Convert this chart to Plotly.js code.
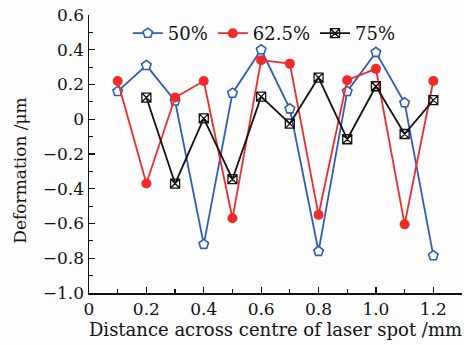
<!DOCTYPE html>
<html><head><meta charset="utf-8">
<script src="https://cdn.plot.ly/plotly-3.0.1.min.js"></script>
<style>html,body{margin:0;padding:0;background:#fff}#c{width:464px;height:345px}</style>
</head><body><div id="c"></div>
<script>
const xAll = [0.1,0.2,0.3,0.4,0.5,0.6,0.7,0.8,0.9,1.0,1.1,1.2];
const x75 = [0.2,0.3,0.4,0.5,0.6,0.7,0.8,0.9,1.0,1.1,1.2];
const y50 = [0.16,0.31,0.105,-0.72,0.15,0.40,0.06,-0.76,0.16,0.385,0.095,-0.785];
const y625 = [0.22,-0.37,0.125,0.22,-0.57,0.34,0.32,-0.55,0.225,0.29,-0.605,0.22];
const y75 = [0.125,-0.37,0.005,-0.345,0.13,-0.025,0.24,-0.115,0.19,-0.085,0.11];
const names = ['50%','62.5%','75%'];
const xTickVals = [0,0.2,0.4,0.6,0.8,1.0,1.2];
const xTickText = ['0','0.2','0.4','0.6','0.8','1.0','1.2'];
const yTickVals = [0.6,0.4,0.2,0,-0.2,-0.4,-0.6,-0.8,-1.0];
const yTickText = ['0.6','0.4','0.2','0','\u22120.2','\u22120.4','\u22120.6','\u22120.8','\u22121.0'];
const xTitle = 'Distance across centre of laser spot /mm';
const yTitle = 'Deformation /\u03bcm';

const font = 'DejaVu Serif, Liberation Serif, serif';
const traces = [
  {x:xAll, y:y50, name:names[0], mode:'lines+markers',
   line:{color:'#2f5db5', width:1.8},
   marker:{symbol:'pentagon', size:10, color:'#ffffff', line:{color:'#2f5db5', width:1.6}}},
  {x:xAll, y:y625, name:names[1], mode:'lines+markers',
   line:{color:'#ee2a2a', width:1.8},
   marker:{symbol:'circle', size:10, color:'#ee2a2a'}},
  {x:x75, y:y75, name:names[2], mode:'lines+markers',
   line:{color:'#111111', width:1.8},
   marker:{symbol:'square-x-open', size:9, color:'#111111', line:{width:1.3}}}
];
const layout = {
  width:464, height:345,
  margin:{l:89, r:2, t:15, b:52},
  paper_bgcolor:'#fdfdfd', plot_bgcolor:'#fdfdfd',
  font:{family:font, color:'#111', size:16},
  showlegend:true,
  legend:{orientation:'h', x:0.47, xanchor:'center', y:1.0, yanchor:'top',
          font:{family:font, size:18, color:'#111'}, bgcolor:'rgba(0,0,0,0)',
          itemwidth:30, tracegroupgap:0},
  xaxis:{range:[0,1.3], showgrid:false, zeroline:false, showline:true, linecolor:'#111', linewidth:1.5,
         ticks:'inside', ticklen:6, tickwidth:1.3, tickcolor:'#111',
         tickvals:xTickVals, ticktext:xTickText,
         minor:{ticks:'inside', dtick:0.1, ticklen:4, tickwidth:1.2, tickcolor:'#111'},
         tickfont:{family:font, size:17},
         title:{text:xTitle, font:{family:font, size:18}, standoff:1}},
  yaxis:{range:[-1.0,0.6], showgrid:false, zeroline:false, showline:true, linecolor:'#111', linewidth:1.5,
         ticks:'inside', ticklen:6, tickwidth:1.3, tickcolor:'#111',
         tickvals:yTickVals, ticktext:yTickText,
         minor:{ticks:'inside', dtick:0.1, ticklen:4, tickwidth:1.2, tickcolor:'#111'},
         tickfont:{family:font, size:17}},
  annotations:[{text:yTitle, textangle:-90, xref:'paper', yref:'paper', x:-0.185, y:0.44,
                xanchor:'center', yanchor:'middle', showarrow:false, font:{family:font, size:17, color:'#111'}}]
};
Plotly.newPlot('c', traces, layout, {displayModeBar:false, staticPlot:true});
</script></body></html>
